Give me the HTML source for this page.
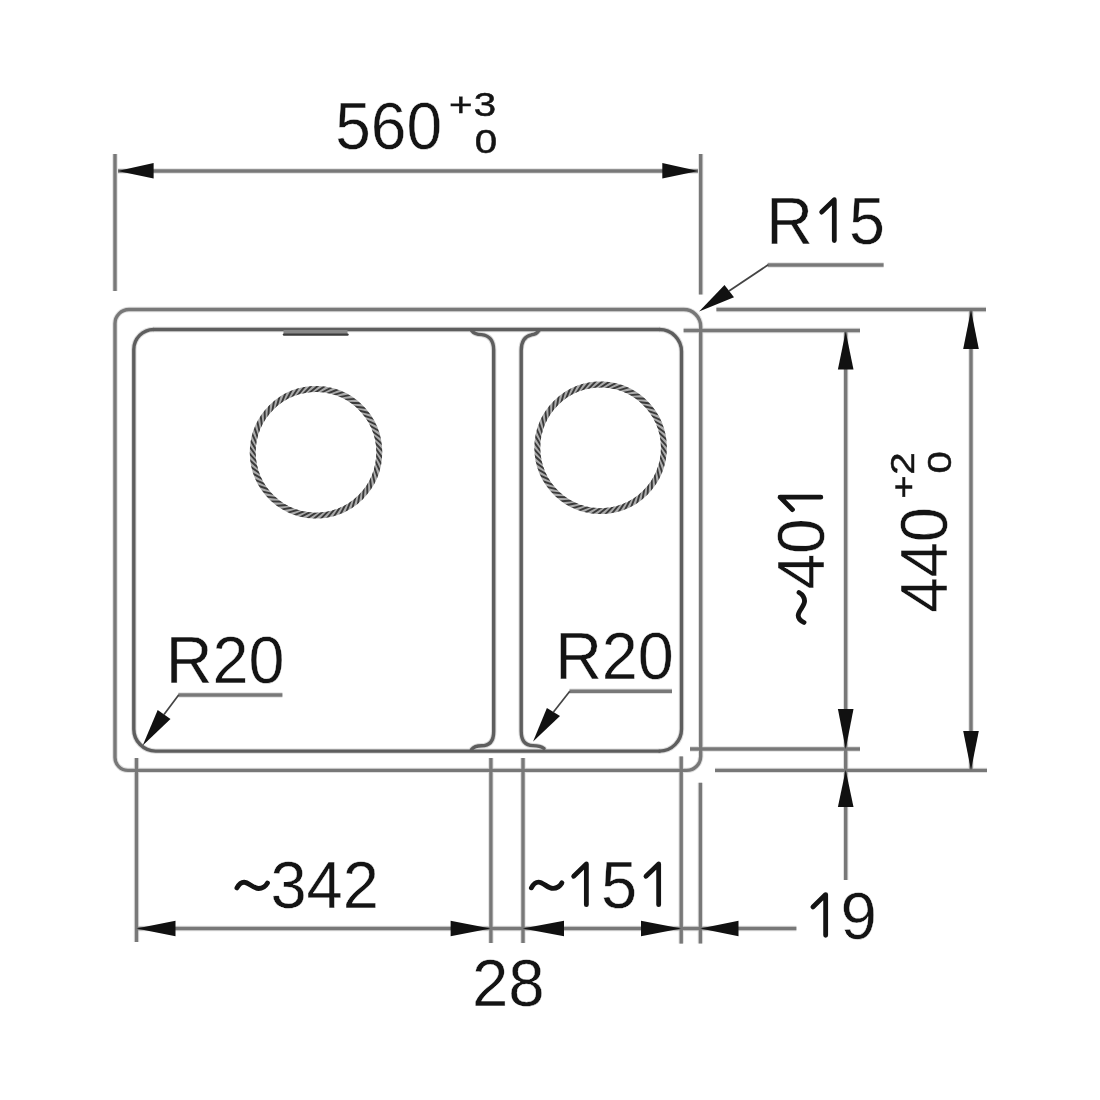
<!DOCTYPE html>
<html><head><meta charset="utf-8">
<style>
html,body{margin:0;padding:0;background:#fff;width:1100px;height:1100px;overflow:hidden}
svg{position:absolute;left:0;top:0;display:block;will-change:transform}
text{font-family:"Liberation Sans",sans-serif;fill:#141414;stroke:#fff;stroke-width:0.4px}
#subs text{stroke:#141414;stroke-width:0.5px}
#tilde,#one{fill:none;stroke:#141414;stroke-width:0.074;stroke-linecap:round;stroke-linejoin:round}
</style></head>
<body>
<svg width="1100" height="1100" viewBox="0 0 1100 1100">
<defs><path id="one" d="M0.33 -0.05 V-0.667 L0.135 -0.48"/><path id="tilde" d="M0.068 -0.305 C0.1 -0.365 0.13 -0.392 0.178 -0.392 C0.25 -0.392 0.32 -0.296 0.402 -0.296 C0.465 -0.296 0.508 -0.33 0.538 -0.38"/></defs>
<defs>
<g id="Lb">
  <path d="M153.6 329.5 H659.5"/>
  <path d="M153.6 329.5 A20 20 0 0 0 133.8 349.5 V729 A22 22 0 0 0 155.6 751.1 H659.5"/>
  <path d="M471.5 330.5 Q474.5 334.6 481.5 334.6 Q493.7 336 493.7 350 V731.5 Q493.7 745.8 481.5 745.8 Q474.5 745.8 471.5 749.5"/>
  <path d="M539 330.5 Q536 334.6 531.5 334.8 Q521.2 337 521.2 350.5 V731 Q521.2 745.6 533 745.6 Q540.5 745.6 544 748.5"/>
  <path d="M659.5 329.5 A22 22 0 0 1 681.5 351.5 V729 A22 22 0 0 1 659.5 751.1"/>
</g>
<g id="Lr">
  <path d="M129 309.5 H683.7 A17 17 0 0 1 700.7 326.5 V756.4 A14 14 0 0 1 686.7 770.4 H128 A13 13 0 0 1 115 757.4 V323.5 A14 14 0 0 1 129 309.5 Z"/>
  <path d="M115 154 V291"/>
  <path d="M700.7 154 V294.5"/>
  <path d="M118 171 H698"/>
  <path d="M716.4 309.5 H986"/>
  <path d="M683.6 330.5 H860"/>
  <path d="M690 749 H860"/>
  <path d="M715 770.4 H987"/>
  <path d="M845.7 332 V880"/>
  <path d="M971 310 V770"/>
  <path d="M136.5 758 V942"/>
  <path d="M490.9 758 V943"/>
  <path d="M523 758 V943"/>
  <path d="M681.2 756.4 V943.6"/>
  <path d="M700.4 782.7 V943.6"/>
  <path d="M136.5 928.5 H796.4"/>
  <path d="M767.7 265 H883.6"/>
  <path d="M178.4 695 H282.4"/>
  <path d="M569.5 691.3 H672"/>
</g>
</defs>
<g id="lines" fill="none">
  <use href="#Lr" stroke="#e0e0e0" stroke-width="5.4"/>
  <use href="#Lb" stroke="#dcdcdc" stroke-width="5.4" stroke-linecap="round"/>
  <use href="#Lr" stroke="#787878" stroke-width="3.4"/>
  <use href="#Lb" stroke="#5e5e5e" stroke-width="3.4" stroke-linecap="round"/>
</g>
<g id="slot">
<rect x="283.5" y="330" width="64" height="4.5" fill="#888"/>
<path d="M284 334.6 H347.5" stroke="#3c3c3c" stroke-width="2.4" stroke-linecap="round"/>
</g>
<g id="rings">
<circle cx="316.0" cy="452.3" r="63.3" fill="none" stroke="#ababab" stroke-width="5.9"/>
<clipPath id="rc316"><path d="M249.75 452.3a66.25 66.25 0 1 0 132.5 0a66.25 66.25 0 1 0 -132.5 0ZM255.65 452.3a60.349999999999994 60.349999999999994 0 1 1 120.69999999999999 0a60.349999999999994 60.349999999999994 0 1 1 -120.69999999999999 0Z" clip-rule="evenodd"/></clipPath>
<g clip-path="url(#rc316)"><path d="M374.4 452.3L382.8 466.5M374.1 458.2L381.0 473.2M373.2 464.0L378.5 479.7M371.7 469.8L375.4 485.9M369.6 475.3L371.7 491.7M367.0 480.6L367.5 497.1M363.9 485.6L362.7 502.1M360.3 490.3L357.4 506.6M356.2 494.6L351.7 510.5M351.7 498.4L345.6 513.8M346.9 501.8L339.2 516.5M341.7 504.7L332.6 518.5M336.3 507.0L325.8 519.8M330.6 508.8L319.0 520.5M324.8 510.0L312.0 520.4M319.0 510.6L305.2 519.7M313.0 510.6L298.4 518.2M307.2 510.0L291.8 516.1M301.4 508.8L285.5 513.4M295.7 507.0L279.5 510.0M290.3 504.7L273.8 506.0M285.1 501.8L268.6 501.4M280.3 498.4L263.9 496.4M275.8 494.6L259.7 490.9M271.7 490.3L256.1 485.0M268.1 485.6L253.1 478.8M265.0 480.6L250.7 472.3M262.4 475.3L249.0 465.5M260.3 469.8L248.1 458.7M258.8 464.0L247.8 451.8M257.9 458.2L248.2 444.9M257.6 452.3L249.2 438.1M257.9 446.4L251.0 431.4M258.8 440.6L253.5 424.9M260.3 434.8L256.6 418.7M262.4 429.3L260.3 412.9M265.0 424.0L264.5 407.5M268.1 419.0L269.3 402.5M271.7 414.3L274.6 398.0M275.8 410.0L280.3 394.1M280.3 406.2L286.4 390.8M285.1 402.8L292.8 388.1M290.3 399.9L299.4 386.1M295.7 397.6L306.2 384.8M301.4 395.8L313.0 384.1M307.2 394.6L320.0 384.2M313.0 394.0L326.8 384.9M319.0 394.0L333.6 386.4M324.8 394.6L340.2 388.5M330.6 395.8L346.5 391.2M336.3 397.6L352.5 394.6M341.7 399.9L358.2 398.6M346.9 402.8L363.4 403.2M351.7 406.2L368.1 408.2M356.2 410.0L372.3 413.7M360.3 414.3L375.9 419.6M363.9 419.0L378.9 425.8M367.0 424.0L381.3 432.3M369.6 429.3L383.0 439.1M371.7 434.8L383.9 445.9M373.2 440.6L384.2 452.8M374.1 446.4L383.8 459.7" stroke="#3a3a3a" stroke-width="1.9" fill="none"/>
</g>
<circle cx="600.6" cy="447.8" r="63.3" fill="none" stroke="#ababab" stroke-width="5.9"/>
<clipPath id="rc600"><path d="M534.35 447.8a66.25 66.25 0 1 0 132.5 0a66.25 66.25 0 1 0 -132.5 0ZM540.25 447.8a60.349999999999994 60.349999999999994 0 1 1 120.69999999999999 0a60.349999999999994 60.349999999999994 0 1 1 -120.69999999999999 0Z" clip-rule="evenodd"/></clipPath>
<g clip-path="url(#rc600)"><path d="M659.0 447.8L667.4 462.0M658.7 453.7L665.6 468.7M657.8 459.5L663.1 475.2M656.3 465.3L660.0 481.4M654.2 470.8L656.3 487.2M651.6 476.1L652.1 492.6M648.5 481.1L647.3 497.6M644.9 485.8L642.0 502.1M640.8 490.1L636.3 506.0M636.3 493.9L630.2 509.3M631.5 497.3L623.8 512.0M626.3 500.2L617.2 514.0M620.9 502.5L610.4 515.3M615.2 504.3L603.6 516.0M609.4 505.5L596.6 515.9M603.6 506.1L589.8 515.2M597.6 506.1L583.0 513.7M591.8 505.5L576.4 511.6M586.0 504.3L570.1 508.9M580.3 502.5L564.1 505.5M574.9 500.2L558.4 501.5M569.7 497.3L553.2 496.9M564.9 493.9L548.5 491.9M560.4 490.1L544.3 486.4M556.3 485.8L540.7 480.5M552.7 481.1L537.7 474.3M549.6 476.1L535.3 467.8M547.0 470.8L533.6 461.0M544.9 465.3L532.7 454.2M543.4 459.5L532.4 447.3M542.5 453.7L532.8 440.4M542.2 447.8L533.8 433.6M542.5 441.9L535.6 426.9M543.4 436.1L538.1 420.4M544.9 430.3L541.2 414.2M547.0 424.8L544.9 408.4M549.6 419.5L549.1 403.0M552.7 414.5L553.9 398.0M556.3 409.8L559.2 393.5M560.4 405.5L564.9 389.6M564.9 401.7L571.0 386.3M569.7 398.3L577.4 383.6M574.9 395.4L584.0 381.6M580.3 393.1L590.8 380.3M586.0 391.3L597.6 379.6M591.8 390.1L604.6 379.7M597.6 389.5L611.4 380.4M603.6 389.5L618.2 381.9M609.4 390.1L624.8 384.0M615.2 391.3L631.1 386.7M620.9 393.1L637.1 390.1M626.3 395.4L642.8 394.1M631.5 398.3L648.0 398.7M636.3 401.7L652.7 403.7M640.8 405.5L656.9 409.2M644.9 409.8L660.5 415.1M648.5 414.5L663.5 421.3M651.6 419.5L665.9 427.8M654.2 424.8L667.6 434.6M656.3 430.3L668.5 441.4M657.8 436.1L668.8 448.3M658.7 441.9L668.4 455.2" stroke="#3a3a3a" stroke-width="1.9" fill="none"/>
</g>
</g>
<g id="leaders" fill="none" stroke="#444" stroke-width="1.7">
  <path d="M729 291 L768.2 264.8"/>
  <path d="M164 714.5 L178.8 694.8"/>
  <path d="M553.5 712 L569.8 691.2"/>
</g>
<g id="arrows" fill="#111">
  <path d="M117.7 171 L153.6 163 L153.6 178.5 Z"/>
  <path d="M698.2 171 L662.3 163 L662.3 178.5 Z"/>
  <path d="M699.1 311.4 L724.5 285 L734 297.3 Z"/>
  <path d="M142.7 745.5 L157.7 710 L170.5 719 Z"/>
  <path d="M533.1 741.5 L546.9 708 L560 716 Z"/>
  <path d="M845.7 331.6 L837.9 369.6 L853.5 369.6 Z"/>
  <path d="M845.7 749 L837.9 709 L853.5 709 Z"/>
  <path d="M971 310 L963.2 349 L978.8 349 Z"/>
  <path d="M971 770 L963.2 731 L978.8 731 Z"/>
  <path d="M845.7 770 L837.9 807 L853.5 807 Z"/>
  <path d="M136.5 928.5 L175.5 920.7 L175.5 936.3 Z"/>
  <path d="M490.4 928.5 L450.6 920.7 L450.6 936.3 Z"/>
  <path d="M522.7 928.5 L564 920.7 L564 936.3 Z"/>
  <path d="M681 928.5 L641 920.7 L641 936.3 Z"/>
  <path d="M700.4 928.5 L738.5 920.7 L738.5 936.3 Z"/>
</g>
<g id="texts">
<g id="t560" transform="translate(335.2 148.7) scale(0.97 1)"><text x="0.00" y="0" font-size="66">560</text></g>
<g id="tR15" transform="translate(766.25 243.75) scale(0.98 1)"><text x="0.00" y="0" font-size="66">R 5</text><use href="#one" transform="translate(47.65 0) scale(66)"/></g>
<g id="tR20L" transform="translate(165.85 683.15) scale(0.98 1)"><text x="0.00" y="0" font-size="66">R20</text></g>
<g id="tR20R" transform="translate(555.15 679.25) scale(0.98 1)"><text x="0.00" y="0" font-size="66">R20</text></g>
<g id="t342" transform="translate(232.5 908.1) scale(0.985 1)"><text x="38.54" y="0" font-size="66">342</text><use href="#tilde" transform="scale(66)"/></g>
<g id="t151" transform="translate(526.95 907.95) scale(0.985 1)"><text x="38.54" y="0" font-size="66"> 5 </text><use href="#tilde" transform="scale(66)"/><use href="#one" transform="translate(38.54 0) scale(66)"/><use href="#one" transform="translate(111.94 0) scale(66)"/></g>
<g id="t28" transform="translate(471.9 1005.75) scale(0.99 1)"><text x="0.00" y="0" font-size="66">28</text></g>
<g id="t19" transform="translate(804.1 938.6) scale(0.99 1)"><text x="0.00" y="0" font-size="66"> 9</text><use href="#one" transform="translate(0.00 0) scale(66)"/></g>
<g id="t401" transform="translate(824.1 626.85) rotate(-90) scale(0.97 1)"><text x="38.54" y="0" font-size="66">40 </text><use href="#tilde" transform="scale(66)"/><use href="#one" transform="translate(111.94 0) scale(66)"/></g>
<g id="t440" transform="translate(947.2 612.75) rotate(-90) scale(0.96 1)"><text x="0.00" y="0" font-size="66">440</text></g>
</g>
<g id="subs">
<g id="sP3" transform="translate(448.9 116.2) scale(1.22 1)"><text x="0.00" y="0" font-size="33">+</text></g>
<g id="s3" transform="translate(473.85 115.6) scale(1.22 1)"><text x="0.00" y="0" font-size="33">3</text></g>
<g id="s0a" transform="translate(474.7 153.45) scale(1.22 1)"><text x="0.00" y="0" font-size="33">0</text></g>
<g id="sP2" transform="translate(915.0 498.85) rotate(-90) scale(1.22 1)"><text x="0.00" y="0" font-size="33">+</text></g>
<g id="s2" transform="translate(913.75 474.75) rotate(-90) scale(1.22 1)"><text x="0.00" y="0" font-size="33">2</text></g>
<g id="s0b" transform="translate(950.75 473.6) rotate(-90) scale(1.22 1)"><text x="0.00" y="0" font-size="33">0</text></g>
</g>
</svg>
</body></html>
